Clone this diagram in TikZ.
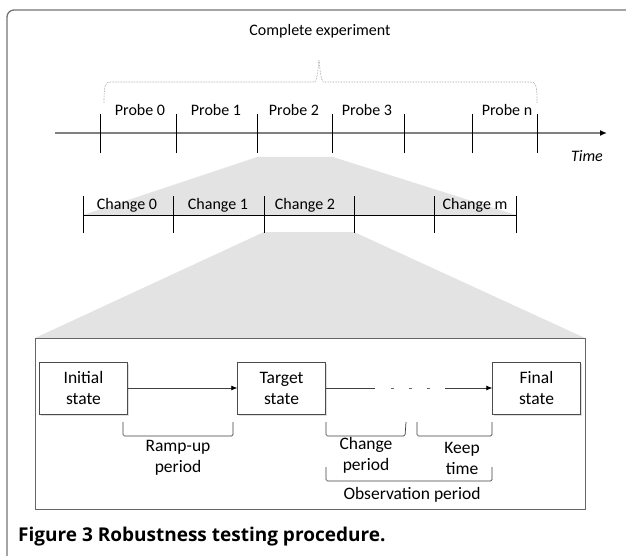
\documentclass[tikz,border=0pt]{standalone}
\usepackage{fontspec}
\setmainfont{Carlito}
\newfontfamily\capfont{Open Sans}
\usetikzlibrary{arrows.meta,shadows}
\begin{document}
\begin{tikzpicture}[x=1pt, y=-1pt, font=\fontsize{16}{20}\selectfont,
  state node/.style={draw=black!70, fill=white, minimum width=88pt, minimum height=52pt, inner sep=0pt, align=center,
    font=\fontsize{17.5}{21}\selectfont,
    drop shadow={opacity=0.25, shadow xshift=1.5pt, shadow yshift=-1.5pt}},
  label node/.style={anchor=base, inner sep=0pt},
  period node/.style={align=center, inner sep=0pt, font=\fontsize{17.5}{21}\selectfont},
  tick/.style={black, line width=0.8pt},
  zoom fill/.style={fill=black!11, draw=none},
  span/.style={draw=black!75, line width=0.7pt, rounded corners=1.5pt}]
\useasboundingbox (0,0) rectangle (626,556);
% frame
\draw [black!55, line width=1.3pt, rounded corners=7pt] (7,600) -- (7,10) -- (660,10);
% zoom areas
\fill [zoom fill] (257,157) -- (333,157) -- (516,215) -- (83,215) -- cycle;
\fill [zoom fill] (264,232) -- (354,232) -- (585,338) -- (35,338) -- cycle;
% top time line
\coordinate (t0) at (55,133);
\coordinate (t1) at (607,133);
\draw [black!50, line width=1.6pt, -{Latex[length=7pt, width=6pt, black]}] (t0) -- (t1);
\foreach \x in {100,176,257,332,404,472,537}
  \draw [tick] (\x,114) -- (\x,153);
\begin{scope}[every node/.style={label node}]
\node (p0) at (140,116) {Probe 0};
\node (p1) at (216,116) {Probe 1};
\node (p2) at (294,116) {Probe 2};
\node (p3) at (367,116) {Probe 3};
\node (pn) at (507,116) {Probe n};
\node (time) at (587,162) {\itshape Time};
\node (exp) at (320,36) {Complete experiment};
\end{scope}
\draw [black!45, densely dotted, line width=0.6pt] (104,103) .. controls (104,85) and (105,82) .. (111,82) -- (314,82) .. controls (317,82) and (318,70) .. (319,60) .. controls (320,70) and (321,82) .. (324,82) -- (530,82) .. controls (536,82) and (537,85) .. (537,103);
% change line
\coordinate (c0) at (83,215);
\coordinate (c1) at (516,215);
\draw [black, line width=0.9pt] (c0) -- (c1);
\foreach \x in {83,173,264,354,434,516}
  \draw [tick] (\x,196) -- (\x,233);
\begin{scope}[every node/.style={label node}]
\node (ch0) at (127,209) {Change 0};
\node (ch1) at (218,209) {Change 1};
\node (ch2) at (305,209) {Change 2};
\node (chm) at (475,209) {Change m};
\end{scope}
% detail box
\draw [black!60, line width=0.8pt, fill=white] (35,338) rectangle (585,509);
\node [state node] (init) at (83.5,388) {Initial\\state};
\node [state node] (target) at (281.5,388) {Target\\state};
\node [state node] (final) at (536.5,388) {Final\\state};
\coordinate (gapl) at (375,388);
\coordinate (gapr) at (445,388);
\draw [black!75, line width=0.7pt, -{Latex[length=6pt, width=5pt, black]}] (init) -- (target);
\draw [black!75, line width=0.7pt] (target) -- (gapl);
\draw [black!75, line width=0.7pt, -{Latex[length=6pt, width=5pt, black]}] (gapr) -- (final);
\foreach \x in {392,410,428}
  \draw [black!60, line width=0.8pt] (\x-1.5,388) -- (\x+1.5,388);
% periods
\draw [span] (123,422) -- (123,436) -- (233,436) -- (233,422);
\draw [span] (326,422) -- (326,436) -- (405,436) -- (406,422);
\draw [span] (417,422) -- (417,436) -- (492,436) -- (492,422);
\draw [span] (326,467) -- (326,481) -- (492,481) -- (492,467);
\node [period node] (ramp) at (178,458) {Ramp-up\\period};
\node [period node] (chp) at (366,455) {Change\\period};
\node [period node] (keep) at (462,458) {Keep\\time};
\node [label node, font=\fontsize{17.5}{21}\selectfont] (obs) at (412,499) {Observation period};
% caption
\node [anchor=base west, inner sep=0pt, font=\capfont\fontsize{19}{21}\selectfont\bfseries] (cap) at (18,541) {Figure 3 Robustness testing procedure.};
\end{tikzpicture}
\end{document}
